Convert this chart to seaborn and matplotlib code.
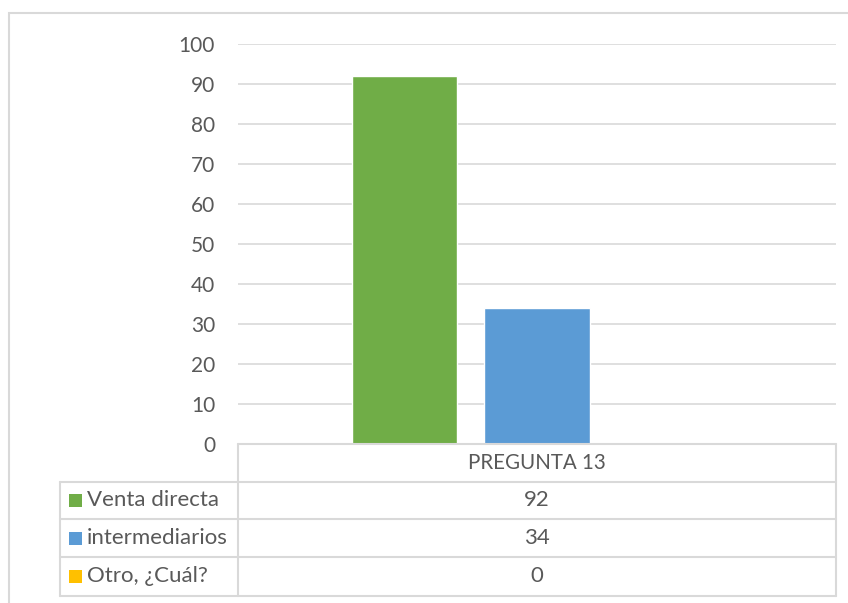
import pandas as pd
import numpy as np
import matplotlib
matplotlib.use("Agg")
import matplotlib.pyplot as plt
from matplotlib.patches import Rectangle
from matplotlib.lines import Line2D
import seaborn as sns

# datos
categoria = ["PREGUNTA 13"]
series = ["Venta directa", "intermediarios", "Otro, ¿Cuál?"]
valores = [92, 34, 0]
colores = ["#70AD47", "#5B9BD5", "#FFC000"]
yticks = [0, 10, 20, 30, 40, 50, 60, 70, 80, 90, 100]

df = pd.DataFrame({"cat": categoria * len(series), "serie": series, "valor": valores})

sns.set_style("white")
plt.rcParams["font.family"] = ["Lato", "DejaVu Sans"]
gris_txt = "#595959"
gris_lin = "#D9D9D9"

W, H = 848, 603
fig = plt.figure(figsize=(W / 100, H / 100), dpi=100)

def fx(px):
    return px / W

def fy(py):
    return 1 - py / H

# area del grafico (pixeles)
x0, x1, y_top, y_base = 238, 836, 44, 444
ax = fig.add_axes([fx(x0), fy(y_base), fx(x1 - x0), (y_base - y_top) / H])

sns.barplot(data=df, x="cat", y="valor", hue="serie", palette=colores,
            hue_order=series, width=0.667, gap=0.21, saturation=1,
            legend=False, ax=ax)
ax.set_ylim(0, 100)
ax.set_xlim(-0.5, 0.5)
ax.set_yticks(yticks)
ax.yaxis.grid(True, color=gris_lin, linewidth=1.2)
ax.set_axisbelow(True)
for s in ax.spines.values():
    s.set_visible(False)
ax.set_xticks([])
ax.set_xlabel("")
ax.set_ylabel("")
ax.tick_params(axis="y", length=0, pad=16.5, labelsize=15, labelcolor=gris_txt)

# borde exterior del grafico
fig.add_artist(Rectangle((fx(9), fy(700)), fx(900), (700 - 13) / H,
                         transform=fig.transFigure, fill=False,
                         edgecolor=gris_lin, linewidth=1.5))

# tabla de datos
filas = [444, 481.5, 519, 557, 595.5]
x_izq, x_mid, x_der = 60, 238, 836

def linea(xa, ya, xb, yb):
    fig.add_artist(Line2D([fx(xa), fx(xb)], [fy(ya), fy(yb)],
                          transform=fig.transFigure, color=gris_lin, linewidth=1.5))

linea(x_mid, filas[0], x_der, filas[0])
for yy in filas[1:]:
    linea(x_izq, yy, x_der, yy)
linea(x_mid, filas[0], x_mid, filas[-1])
linea(x_der, filas[0], x_der, filas[-1])
linea(x_izq, filas[1], x_izq, filas[-1])

xc = (x_mid + x_der) / 2
fig.text(fx(xc), fy((filas[0] + filas[1]) / 2), categoria[0], ha="center",
         va="center", fontsize=14.8, color=gris_txt)
for i, (nom, val, col) in enumerate(zip(series, valores, colores)):
    yc = (filas[i + 1] + filas[i + 2]) / 2
    fig.add_artist(Rectangle((fx(69), fy(yc + 6.5)), fx(13), 13 / H,
                             transform=fig.transFigure, facecolor=col,
                             edgecolor="none"))
    fig.text(fx(87), fy(yc), nom, ha="left", va="center", fontsize=16,
             color=gris_txt)
    fig.text(fx(xc), fy(yc), str(val), ha="center", va="center", fontsize=16,
             color=gris_txt)

fig.savefig("out.png", dpi=100)
